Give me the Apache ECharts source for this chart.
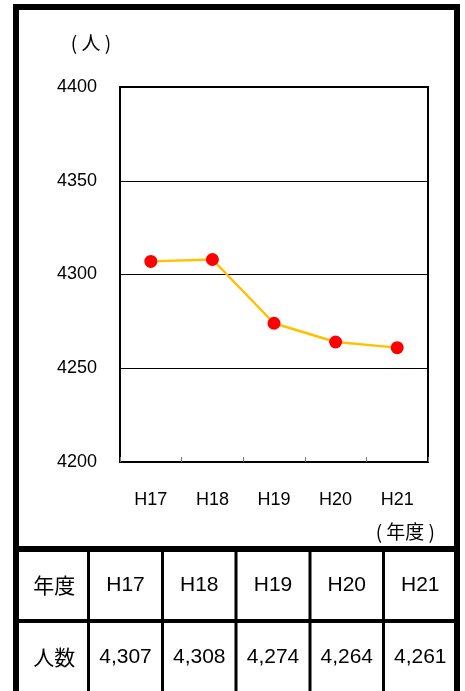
<!DOCTYPE html>
<html>
<head>
<meta charset="utf-8">
<script src="https://cdn.jsdelivr.net/npm/echarts@6/dist/echarts.min.js"></script>
<style>
html,body{margin:0;padding:0;background:#fff;}
#chart{width:465px;height:691px;}
</style>
</head>
<body>
<div id="chart"></div>
<script>
// ---- data ----
var categories = ['H17', 'H18', 'H19', 'H20', 'H21'];
var people = [4307, 4308, 4274, 4264, 4261];
var yTicks = [4200, 4250, 4300, 4350, 4400];
var yUnit = '(人)';
var xUnit = '(年度)';
var tableHeader = ['年度', '人数'];

// ---- layout ----
var W = 465, H = 691;
var FONT = '"Liberation Sans", Arial, "Noto Sans CJK JP", sans-serif';
var CJK = '"Noto Sans CJK JP", "Liberation Sans", sans-serif';

var chart = echarts.init(document.getElementById('chart'), null, {renderer: 'canvas'});

var colEdges = [16, 88.5, 162.5, 236, 310, 383.5, 457];
var rowSep = 549, midLine = 621;
var row1Y = 585, row2Y = 657;

function spaced(s) { return s.replace('(', '( ').replace(')', ' )'); }

var graphics = [];
graphics.push({type: 'rect', shape: {x: 16, y: 7, width: 441, height: 720},
  style: {fill: 'none', stroke: '#000', lineWidth: 6}, z: 10});
graphics.push({type: 'line', shape: {x1: 13, y1: rowSep, x2: 460, y2: rowSep},
  style: {stroke: '#000', lineWidth: 6}, z: 10});
graphics.push({type: 'line', shape: {x1: 13, y1: midLine, x2: 460, y2: midLine},
  style: {stroke: '#000', lineWidth: 4}, z: 10});
for (var i = 1; i < colEdges.length - 1; i++) {
  graphics.push({type: 'line', shape: {x1: colEdges[i], y1: rowSep, x2: colEdges[i], y2: H + 5},
    style: {stroke: '#000', lineWidth: 3}, z: 10});
}
function cellText(txt, cx, cy, font) {
  graphics.push({type: 'text', x: cx, y: cy, z: 11,
    style: {text: txt, fill: '#000', font: '21px ' + font, textAlign: 'center', textVerticalAlign: 'middle'}});
}
cellText(tableHeader[0], (colEdges[0] + colEdges[1]) / 2 + 2, row1Y, CJK);
cellText(tableHeader[1], (colEdges[0] + colEdges[1]) / 2 + 2, row2Y, CJK);
for (var j = 0; j < categories.length; j++) {
  var cx = (colEdges[j + 1] + colEdges[j + 2]) / 2;
  cellText(categories[j], cx, row1Y, FONT);
  cellText(people[j].toLocaleString('en-US'), cx, row2Y, FONT);
}
graphics.push({type: 'text', x: 91, y: 43, z: 11,
  style: {text: spaced(yUnit), fill: '#000', font: '19px ' + CJK, textAlign: 'center', textVerticalAlign: 'middle'}});
graphics.push({type: 'text', x: 435, y: 532, z: 11,
  style: {text: spaced(xUnit), fill: '#000', font: '19px ' + CJK, textAlign: 'right', textVerticalAlign: 'middle'}});

var option = {
  animation: false,
  backgroundColor: '#fff',
  grid: {left: 120, top: 87, width: 308, height: 375, show: true,
    borderColor: '#000', borderWidth: 2, backgroundColor: 'transparent'},
  xAxis: {
    type: 'category',
    data: categories,
    boundaryGap: true,
    axisLine: {show: true, lineStyle: {color: '#000', width: 2}},
    axisTick: {show: true, inside: true, length: 5, lineStyle: {color: '#777', width: 1}},
    axisLabel: {color: '#000', fontSize: 18, fontFamily: FONT, margin: 29},
    splitLine: {show: false}
  },
  yAxis: {
    type: 'value',
    min: yTicks[0],
    max: yTicks[yTicks.length - 1],
    interval: yTicks[1] - yTicks[0],
    axisLine: {show: true, lineStyle: {color: '#000', width: 2}},
    axisTick: {show: false},
    axisLabel: {color: '#000', fontSize: 18, fontFamily: FONT, margin: 23,
      formatter: function (v) { return String(v); }},
    splitLine: {show: true, lineStyle: {color: '#000', width: 1}}
  },
  series: [{
    type: 'line',
    data: people,
    symbol: 'circle',
    symbolSize: 13,
    lineStyle: {color: '#FFC000', width: 2.5},
    itemStyle: {color: '#FF0000', borderWidth: 0},
    z: 5
  }],
  graphic: graphics
};
chart.setOption(option);
</script>
</body>
</html>
